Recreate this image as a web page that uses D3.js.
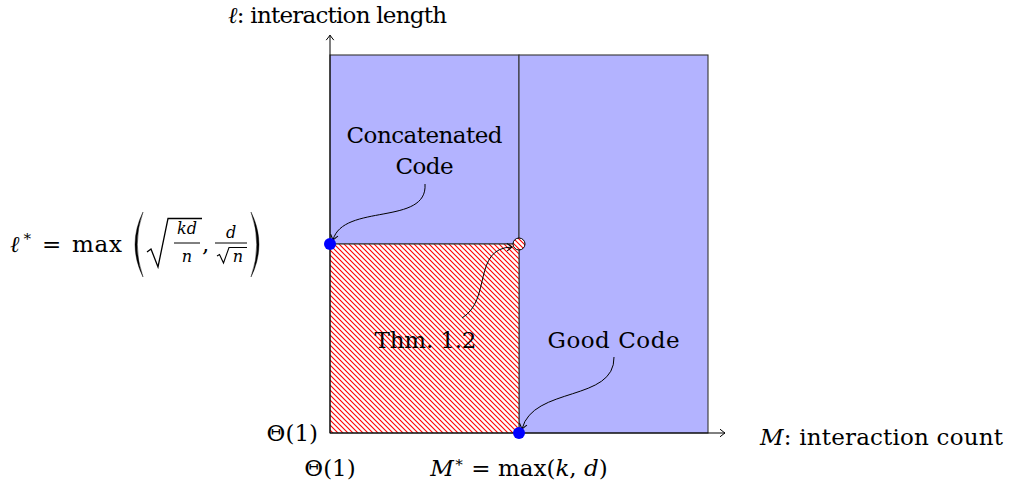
<!DOCTYPE html>
<html><head><meta charset="utf-8">
<script src="https://cdn.jsdelivr.net/npm/d3@7"></script>
<style>
body{margin:0;background:#fff}
text{font-family:"DejaVu Serif",serif;fill:#000}
.it{font-style:italic}
</style>
</head><body>
<svg id="c" width="1010" height="485"></svg>
<script>
// ---- data (abstract units: M* and l* at 1) ----
const xDomain = [0, 2];
const yDomain = [0, 2];
const regionNames = ["Concatenated", "Good", "Thm"];
const regionX0 = [0, 1, 0];
const regionX1 = [1, 2, 1];
const regionY0 = [1, 0, 0];
const regionY1 = [2, 2, 1];
const regionKind = ["blue", "blue", "hatch"];
const pointX = [0, 1, 1];
const pointY = [1, 0, 1];
const pointKind = ["solid", "solid", "open"];
const xTickValues = [0, 1];
const yTickValues = [0, 1];

const svg = d3.select("#c");
const x = d3.scaleLinear().domain(xDomain).range([330, 708]);
const y = d3.scaleLinear().domain(yDomain).range([433, 55]);

const defs = svg.append("defs");
const pat = defs.append("pattern").attr("id","hatch").attr("patternUnits","userSpaceOnUse")
  .attr("width",5).attr("height",5);
pat.append("rect").attr("width",5).attr("height",5).attr("fill","#fff");
pat.append("path").attr("d","M0,0 L5,5 M-1,4 L1,6 M4,-1 L6,1")
  .attr("stroke","#ff0000").attr("stroke-width",1.1);

const mk = defs.append("marker").attr("id","to").attr("viewBox","-6 -5 8 10")
  .attr("refX",0).attr("refY",0).attr("markerWidth",8).attr("markerHeight",10)
  .attr("markerUnits","userSpaceOnUse").attr("orient","auto");
mk.append("path").attr("d","M-5,-3.8 Q-1.2,-0.8 0,0 Q-1.2,0.8 -5,3.8")
  .attr("fill","none").attr("stroke","#000").attr("stroke-width",1);

// regions
const regions = regionNames.map((n,i)=>({n, x0:regionX0[i], x1:regionX1[i], y0:regionY0[i], y1:regionY1[i], k:regionKind[i]}));
svg.selectAll("rect.reg").data(regions).join("rect").attr("class","reg")
  .attr("x",d=>x(d.x0)).attr("y",d=>y(d.y1))
  .attr("width",d=>x(d.x1)-x(d.x0)).attr("height",d=>y(d.y0)-y(d.y1))
  .attr("fill",d=>d.k==="blue"?"#b3b3ff":"url(#hatch)")
  .attr("stroke","#333").attr("stroke-width",1.1);

// axes
svg.append("line").attr("x1",x(0)).attr("y1",y(0)).attr("x2",x(0)).attr("y2",y(2.105))
  .attr("stroke","#000").attr("stroke-width",1).attr("marker-end","url(#to)");
svg.append("line").attr("x1",x(0)).attr("y1",y(0)).attr("x2",x(2.09)).attr("y2",y(0))
  .attr("stroke","#000").attr("stroke-width",1).attr("marker-end","url(#to)");

// annotation arrows
const arrows = [
  "M425,184 C428,226 343,203 333,240",
  "M462,318 C492,300 472,248 512,247",
  "M614,357 C615,402 533,386 522,429"
];
svg.selectAll("path.arr").data(arrows).join("path").attr("class","arr")
  .attr("d",d=>d).attr("fill","none").attr("stroke","#000").attr("stroke-width",1)
  .attr("marker-end","url(#to)");

// points
const pts = pointX.map((v,i)=>({x:v,y:pointY[i],k:pointKind[i]}));
svg.selectAll("circle.pt").data(pts).join("circle").attr("class","pt")
  .attr("cx",d=>x(d.x)).attr("cy",d=>y(d.y))
  .attr("r",d=>d.k==="open"?6:6)
  .attr("fill",d=>d.k==="open"?"url(#hatch)":"#0000ff")
  .attr("stroke",d=>d.k==="open"?"#000":"none").attr("stroke-width",1);

// region labels
const fs = 23;
function lbl(t, cx, by, w){ return svg.append("text").attr("x",cx).attr("y",by).attr("text-anchor","middle").attr("font-size",fs)
  .attr("textLength",w).attr("lengthAdjust","spacing").text(t); }
lbl("Concatenated", x(0.5), 143, 156);
lbl("Code", x(0.5), 174, 58);
lbl("Thm. 1.2", x(0.5)+1, 348, 102);
lbl("Good Code", x(1.5), 348, 132);

// axis titles
const yt = svg.append("text").attr("x",228).attr("y",23).attr("font-size",fs).attr("textLength",219).attr("lengthAdjust","spacing");
yt.append("tspan").attr("class","it").text("ℓ");
yt.append("tspan").text(": interaction length");
const xt = svg.append("text").attr("x",760).attr("y",445).attr("font-size",fs).attr("textLength",243).attr("lengthAdjust","spacing");
xt.append("tspan").attr("class","it").text("M");
xt.append("tspan").text(": interaction count");

// x ticks
svg.append("text").attr("x",x(xTickValues[0])).attr("y",476).attr("text-anchor","middle").attr("font-size",fs).text("Θ(1)");
const t1 = svg.append("text").attr("x",x(xTickValues[1])).attr("y",476).attr("text-anchor","middle").attr("font-size",fs);
t1.append("tspan").attr("class","it").text("M");
t1.append("tspan").attr("font-size",15).attr("dy",-9).text("∗");
t1.append("tspan").attr("dy",9).text(" = max(");
t1.append("tspan").attr("class","it").text("k");
t1.append("tspan").text(", ");
t1.append("tspan").attr("class","it").text("d");
t1.append("tspan").text(")");

// y ticks
svg.append("text").attr("x",318).attr("y",y(yTickValues[0])+8).attr("text-anchor","end").attr("font-size",fs).text("Θ(1)");
const ly = y(yTickValues[1]);
const g = svg.append("g").attr("transform",`translate(0,${ly-244})`);
g.append("text").attr("x",10).attr("y",252).attr("class","it").attr("font-size",fs).text("ℓ");
g.append("text").attr("x",22).attr("y",241).attr("font-size",15).text("∗");
g.append("text").attr("x",42).attr("y",252).attr("font-size",fs).text("=");
g.append("text").attr("x",72).attr("y",252).attr("font-size",fs).attr("textLength",50).attr("lengthAdjust","spacing").text("max");
g.append("path").attr("d","M143,212 Q127,244.5 143,277 Q131.5,244.5 143,212 Z").attr("fill","#000").attr("stroke","#000").attr("stroke-width",0.4);
g.append("path").attr("d","M251,212 Q267,244.5 251,277 Q262.5,244.5 251,212 Z").attr("fill","#000").attr("stroke","#000").attr("stroke-width",0.4);
g.append("path").attr("d","M147,252 L151,249 L158,267 L168,218.5 L202,218.5").attr("fill","none").attr("stroke","#000").attr("stroke-width",1.3);
g.append("text").attr("x",187).attr("y",234).attr("text-anchor","middle").attr("class","it").attr("font-size",16).text("kd");
g.append("line").attr("x1",174).attr("x2",200).attr("y1",243).attr("y2",243).attr("stroke","#000").attr("stroke-width",1);
g.append("text").attr("x",187).attr("y",262).attr("text-anchor","middle").attr("class","it").attr("font-size",16).text("n");
g.append("text").attr("x",202).attr("y",252).attr("font-size",fs).text(",");
g.append("text").attr("x",231).attr("y",238).attr("text-anchor","middle").attr("class","it").attr("font-size",16).text("d");
g.append("line").attr("x1",215).attr("x2",247).attr("y1",243).attr("y2",243).attr("stroke","#000").attr("stroke-width",1);
g.append("path").attr("d","M217,256 L219.5,254.5 L223.5,263 L229,247.5 L247,247.5").attr("fill","none").attr("stroke","#000").attr("stroke-width",1.1);
g.append("text").attr("x",238).attr("y",262).attr("text-anchor","middle").attr("class","it").attr("font-size",16).text("n");
</script>
</body></html>
